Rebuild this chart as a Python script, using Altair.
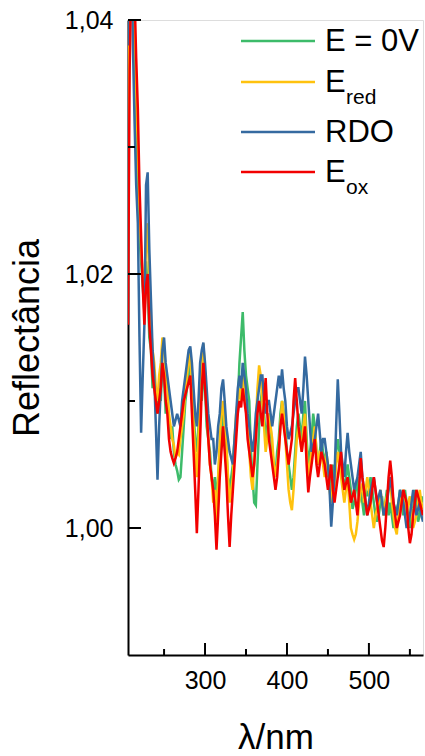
import altair as alt
import pandas as pd

# ---------------- data ----------------
wavelength = list(range(206, 567, 2))

e_0v = [1.030, 1.041, 1.045, 1.043, 1.036, 1.030, 1.027, 1.023, 1.021, 1.019,
        1.017, 1.021, 1.019, 1.015, 1.014, 1.011, 1.012, 1.010, 1.009, 1.011,
        1.010, 1.013, 1.012, 1.009, 1.010, 1.008, 1.007, 1.008, 1.006, 1.005,
        1.0045, 1.0038, 1.0040, 1.006, 1.008, 1.010, 1.011, 1.012, 1.013, 1.011,
        1.009, 1.007, 1.006, 1.008, 1.011, 1.010, 1.012, 1.011, 1.008, 1.007,
        1.006, 1.004, 1.003, 1.004, 1.002, 1.004, 1.006, 1.008, 1.009, 1.007,
        1.006, 1.004, 1.003, 1.004, 1.005, 1.007, 1.008, 1.010, 1.013, 1.015,
        1.017, 1.014, 1.012, 1.011, 1.010, 1.006, 1.004, 1.002, 1.0018, 1.005,
        1.008, 1.010, 1.011, 1.009, 1.007, 1.008, 1.009, 1.008, 1.006, 1.005,
        1.004, 1.006, 1.007, 1.009, 1.010, 1.009, 1.008, 1.006, 1.005, 1.004,
        1.003, 1.004, 1.006, 1.008, 1.009, 1.008, 1.007, 1.009, 1.010, 1.007,
        1.005, 1.006, 1.007, 1.009, 1.008, 1.006, 1.005, 1.006, 1.007, 1.006,
        1.005, 1.006, 1.004, 1.005, 1.003, 1.005, 1.004, 1.006, 1.007, 1.006,
        1.005, 1.004, 1.003, 1.004, 1.005, 1.004, 1.003, 1.0015, 1.002, 1.003,
        1.004, 1.002, 1.003, 1.002, 1.001, 1.003, 1.0025, 1.003, 1.004, 1.003,
        1.002, 1.001, 1.0005, 1.001, 1.002, 1.0025, 1.001, 1.002, 1.003, 1.001,
        1.002, 1.001, 1.000, 1.001, 1.0015, 1.002, 1.003, 1.002, 1.001, 1.003,
        1.002, 1.001, 1.000, 1.001, 1.0015, 1.003, 1.002, 1.0005, 1.001, 1.0025,
        1.002]

e_red = [1.025, 1.044, 1.048, 1.046, 1.040, 1.034, 1.030, 1.025, 1.022, 1.020,
         1.019, 1.022, 1.024, 1.019, 1.016, 1.014, 1.013, 1.011, 1.010, 1.012,
         1.013, 1.015, 1.014, 1.012, 1.011, 1.009, 1.008, 1.007, 1.0065, 1.0055,
         1.006, 1.0058, 1.007, 1.008, 1.009, 1.011, 1.012, 1.013, 1.014, 1.011,
         1.008, 1.006, 1.004, 1.007, 1.010, 1.013, 1.0145, 1.012, 1.010, 1.007,
         1.005, 1.004, 1.002, 1.003, 1.0005, 1.004, 1.007, 1.009, 1.010, 1.008,
         1.007, 1.004, 1.002, 1.003, 1.004, 1.007, 1.009, 1.010, 1.011, 1.010,
         1.012, 1.011, 1.010, 1.008, 1.006, 1.004, 1.003, 1.005, 1.008, 1.011,
         1.0128, 1.012, 1.010, 1.008, 1.006, 1.007, 1.009, 1.008, 1.007, 1.005,
         1.004, 1.005, 1.006, 1.008, 1.010, 1.009, 1.007, 1.005, 1.003, 1.002,
         1.0014, 1.003, 1.005, 1.007, 1.008, 1.007, 1.006, 1.008, 1.009, 1.006,
         1.004, 1.005, 1.006, 1.007, 1.008, 1.006, 1.005, 1.006, 1.006, 1.005,
         1.004, 1.006, 1.005, 1.003, 1.002, 1.004, 1.003, 1.005, 1.006, 1.005,
         1.004, 1.003, 1.002, 1.003, 1.004, 1.002, 1.000, 0.9995, 0.9991, 0.9995,
         1.0005, 1.002, 1.003, 1.0035, 1.002, 1.003, 1.004, 1.003, 1.002, 1.001,
         1.000, 1.001, 1.0015, 1.002, 1.003, 1.002, 1.001, 1.002, 1.0025, 1.003,
         1.004, 1.002, 1.001, 1.000, 0.9995, 1.001, 1.002, 1.0025, 1.003, 1.002,
         1.001, 1.002, 1.0025, 1.001, 1.000, 1.0005, 1.001, 1.002, 1.003, 1.002,
         1.0015]

rdo = [1.038, 1.050, 1.046, 1.038, 1.032, 1.027, 1.024, 1.015, 1.0075, 1.012,
       1.016, 1.027, 1.028, 1.022, 1.018, 1.014, 1.012, 1.008, 1.0038, 1.008,
       1.011, 1.014, 1.015, 1.013, 1.012, 1.011, 1.010, 1.009, 1.008, 1.0085,
       1.009, 1.0085, 1.008, 1.010, 1.011, 1.012, 1.013, 1.014, 1.0143, 1.013,
       1.011, 1.009, 1.008, 1.010, 1.013, 1.014, 1.0146, 1.013, 1.011, 1.009,
       1.008, 1.007, 1.007, 1.005, 1.006, 1.008, 1.009, 1.011, 1.0117, 1.010,
       1.008, 1.007, 1.006, 1.0055, 1.005, 1.007, 1.009, 1.011, 1.012, 1.011,
       1.013, 1.012, 1.011, 1.009, 1.008, 1.007, 1.006, 1.007, 1.009, 1.010,
       1.011, 1.012, 1.012, 1.010, 1.009, 1.010, 1.010, 1.009, 1.008, 1.009,
       1.010, 1.011, 1.012, 1.011, 1.0125, 1.011, 1.010, 1.008, 1.007, 1.0075,
       1.008, 1.009, 1.010, 1.011, 1.011, 1.010, 1.009, 1.011, 1.0135, 1.012,
       1.010, 1.008, 1.006, 1.0065, 1.007, 1.008, 1.009, 1.0075, 1.006, 1.007,
       1.007, 1.006, 1.005, 1.003, 1.0001, 1.002, 1.004, 1.008, 1.0117, 1.009,
       1.006, 1.005, 1.004, 1.006, 1.0075, 1.006, 1.005, 1.004, 1.003, 1.0035,
       1.004, 1.005, 1.006, 1.004, 1.003, 1.002, 1.001, 1.002, 1.003, 1.0035,
       1.004, 1.003, 1.002, 1.0025, 1.003, 1.002, 1.001, 1.0015, 1.002, 1.003,
       1.004, 1.003, 1.002, 1.0015, 1.001, 1.002, 1.003, 1.0025, 1.002, 1.001,
       1.000, 1.0005, 1.001, 1.002, 1.003, 1.002, 1.001, 1.0015, 1.002, 1.001,
       1.0005]

e_ox = [1.016, 1.036, 1.044, 1.047, 1.042, 1.037, 1.033, 1.027, 1.023, 1.019,
        1.016, 1.019, 1.020, 1.016, 1.014, 1.012, 1.011, 1.010, 1.009, 1.010,
        1.011, 1.013, 1.012, 1.010, 1.009, 1.007, 1.006, 1.0055, 1.0051, 1.0055,
        1.006, 1.007, 1.008, 1.009, 1.010, 1.0105, 1.011, 1.0115, 1.012, 1.009,
        1.006, 1.003, 0.9996, 1.003, 1.007, 1.011, 1.013, 1.011, 1.009, 1.007,
        1.005, 1.004, 1.003, 1.001, 0.9983, 1.001, 1.004, 1.006, 1.008, 1.006,
        1.004, 1.001, 0.9985, 1.001, 1.003, 1.005, 1.007, 1.009, 1.010, 1.0095,
        1.011, 1.010, 1.009, 1.007, 1.006, 1.005, 1.004, 1.005, 1.007, 1.009,
        1.010, 1.009, 1.008, 1.010, 1.0118, 1.009, 1.007, 1.006, 1.005, 1.004,
        1.003, 1.004, 1.006, 1.008, 1.009, 1.008, 1.007, 1.006, 1.005, 1.006,
        1.007, 1.010, 1.0118, 1.010, 1.008, 1.007, 1.006, 1.007, 1.008, 1.005,
        1.0028, 1.004, 1.005, 1.006, 1.007, 1.005, 1.004, 1.005, 1.006, 1.0055,
        1.005, 1.004, 1.003, 1.004, 1.005, 1.003, 1.002, 1.003, 1.004, 1.005,
        1.006, 1.004, 1.003, 1.0035, 1.004, 1.003, 1.002, 1.0025, 1.003, 1.002,
        1.001, 1.003, 1.0055, 1.004, 1.003, 1.002, 1.001, 1.0015, 1.002, 1.003,
        1.004, 1.003, 1.002, 1.001, 1.000, 0.999, 0.9985, 1.000, 1.002, 1.004,
        1.0053, 1.004, 1.002, 1.001, 1.000, 1.0005, 1.001, 1.002, 1.003, 1.0025,
        1.002, 1.000, 0.9988, 0.9995, 1.001, 1.002, 1.003, 1.0025, 1.002, 1.0015,
        1.001]

series_names = ["E = 0V", "E_red", "RDO", "E_ox"]
series_values = [e_0v, e_red, rdo, e_ox]
for s in series_values:
    assert len(s) == len(wavelength), (len(s), len(wavelength))

x_major = [300, 400, 500]
x_minor = [250, 350, 450, 550]
y_major = [1.00, 1.02, 1.04]
y_minor = [1.01, 1.03]

legend_main = ["E = 0V", "E", "RDO", "E"]
legend_sub = ["", "red", "", "ox"]

# ---------------- style / layout ----------------
colors = ["#3dbb6a", "#ffc20e", "#356aa0", "#f20000"]
FONT = "Liberation Sans"
W, H = 295, 635

xscale = alt.Scale(domain=[206, 566], nice=False, zero=False)
yscale = alt.Scale(domain=[0.99, 1.04], nice=False, zero=False)

x_axis = alt.Axis(values=x_major, ticks=False, grid=False, title="λ/nm",
                  labelFont=FONT, labelFontSize=25, labelColor="black",
                  labelPadding=13, titleFont=FONT, titleFontSize=35,
                  titleFontWeight="normal", titleColor="black", titlePadding=27,
                  domainColor="black", domainWidth=2)
y_axis = alt.Axis(values=y_major, ticks=False, grid=False, title="Reflectância",
                  labelExpr="replace(format(datum.value, '.2f'), '.', ',')",
                  labelFont=FONT, labelFontSize=25, labelColor="black",
                  labelPadding=15, titleFont=FONT, titleFontSize=36,
                  titleFontWeight="normal", titleColor="black", titlePadding=18,
                  domainColor="black", domainWidth=2)

rows = []
for name, vals in zip(series_names, series_values):
    for lam, v in zip(wavelength, vals):
        rows.append({"series": name, "lam": lam, "R": v})
df = pd.DataFrame(rows)

layers = []
for name, c in zip(series_names, colors):
    layers.append(
        alt.Chart(df).transform_filter(alt.datum.series == name).mark_line(
            color=c, strokeWidth=2.5, clip=True
        ).encode(
            x=alt.X("lam:Q", scale=xscale, axis=x_axis),
            y=alt.Y("R:Q", scale=yscale, axis=y_axis),
        )
    )

# inward ticks
def xticks(vals, length):
    return alt.Chart(pd.DataFrame({"v": vals})).mark_rule(color="black", strokeWidth=2).encode(
        x=alt.X("v:Q", scale=xscale, axis=x_axis), y=alt.value(H), y2=alt.value(H - length))

def yticks(vals, length):
    return alt.Chart(pd.DataFrame({"v": vals})).mark_rule(color="black", strokeWidth=2).encode(
        y=alt.Y("v:Q", scale=yscale, axis=y_axis), x=alt.value(0), x2=alt.value(length))

layers += [xticks(x_major, 12), xticks(x_minor, 6), yticks(y_major, 13), yticks(y_minor, 7)]

# custom legend with subscripts
leg_y = [21, 62, 112, 152]
dummy = pd.DataFrame({"a": [0]})
for c, main, sub, yy in zip(colors, legend_main, legend_sub, leg_y):
    layers.append(alt.Chart(dummy).mark_rule(color=c, strokeWidth=2.5).encode(
        x=alt.value(113), x2=alt.value(187), y=alt.value(yy)))
    layers.append(alt.Chart(dummy).mark_text(
        text=main, font=FONT, fontSize=31, color="black", align="left", baseline="middle"
    ).encode(x=alt.value(197), y=alt.value(yy + 1)))
    if sub:
        layers.append(alt.Chart(dummy).mark_text(
            text=sub, font=FONT, fontSize=21, color="black", align="left", baseline="alphabetic"
        ).encode(x=alt.value(218), y=alt.value(yy + 22)))

chart = alt.layer(*layers).properties(
    width=W, height=H,
    padding={"left": 128, "top": 20, "right": 2, "bottom": 101},
    autosize=alt.AutoSizeParams(type="none"),
).configure_view(stroke="black", strokeWidth=2).configure(background="white")

chart.save("out.html", embed_options={"renderer": "svg", "actions": False})
